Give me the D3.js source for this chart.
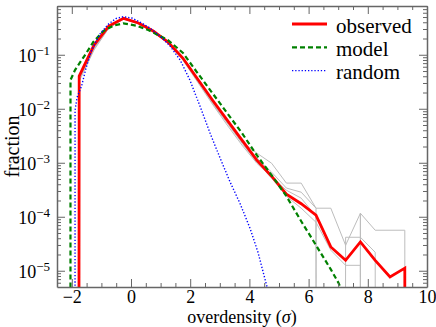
<!DOCTYPE html>
<html><head><meta charset="utf-8">
<script src="https://cdn.jsdelivr.net/npm/d3@7"></script>
<style>
body{margin:0;background:#fff}
svg{display:block}
text{font-family:"Liberation Serif","DejaVu Serif","Times New Roman",serif;fill:#000}
</style>
</head><body>
<svg id="chart" width="436" height="327"></svg>
<script>
// ---- data ----
const binCenters = [-2.25,-1.75,-1.25,-0.75,-0.25,0.25,0.75,1.25,1.75,2.25,2.75,3.25,3.75,4.25,4.75,5.25,5.75,6.25,6.75,7.25,7.75,8.25,8.75,9.25,9.75];
const observed = [0,0.0403,0.151,0.340,0.473,0.387,0.275,0.172,0.0869,0.0355,0.0145,0.00616,0.00262,0.00112,0.000564,0.000262,0.000174,0.000107,0.0000276,0.0000156,0.0000342,0.0000156,0.0000077,0.0000112,0];
const gray1 = [0,0.0355,0.133,0.326,0.469,0.387,0.275,0.172,0.0832,0.0340,0.0133,0.00566,0.00241,0.00151,0.00098,0.00042,0.00042,0.000144,0.000144,0.0000297,0.000116,0.0000563,0.0000563,0.0000563,0];
const gray2 = [0,0.034,0.1276,0.3127,0.459,0.387,0.264,0.165,0.0798,0.0312,0.0122,0.00498,0.00212,0.00098,0.00054,0.00031,0.000221,0.000102,0,0.0000417,0.0000417,0.000022,0,0,0];
const gray3 = [0,0.0326,0.1223,0.3127,0.459,0.371,0.264,0.165,0.0832,0.0326,0.0127,0.00542,0.00231,0.00103,0.00052,0.00024,0.000144,0.000079,0.000024,0.0000126,0.0000126,0,0,0,0];
const gray4 = [0,0.037,0.139,0.326,0.469,0.387,0.275,0.172,0.0869,0.034,0.01386,0.0059,0.00251,0.00122,0.00067,0.00034,0.000285,0.000144,0,0,0.000116,0,0,0,0];
const modelX = [-2.10,-2.044,-1.892,-1.554,-1.274,-0.936,-0.598,-0.260,0.193,0.584,0.912,1.250,1.757,2.250,2.750,3.250,3.750,4.250,4.750,5.250,5.750,6.250,6.750,7.000,7.230];
const modelY = [0,0.0340,0.0521,0.0988,0.172,0.275,0.345,0.382,0.345,0.287,0.232,0.187,0.108,0.0458,0.0195,0.00831,0.00354,0.00138,0.000589,0.000240,0.0000826,0.0000297,0.0000106,0.0000061,0.0000032];
const randomX = [-1.95,-1.89,-1.82,-1.67,-1.52,-1.33,-1.05,-0.78,-0.51,-0.26,0.03,0.30,0.64,0.98,1.32,1.66,1.99,2.33,2.67,3.01,3.35,3.68,4.02,4.29,4.58,4.70];
const randomY = [0,0.0094,0.0164,0.0263,0.0567,0.122,0.242,0.363,0.469,0.507,0.479,0.404,0.313,0.222,0.145,0.080,0.034,0.0112,0.00354,0.00122,0.000437,0.000178,0.0000613,0.000022,0.0000054,0.0000031];
const xTicks = [-2,0,2,4,6,8,10];
const xMinorTicks = [-2.5,-1.5,-1,-0.5,0.5,1,1.5,2.5,3,3.5,4.5,5,5.5,6.5,7,7.5,8.5,9,9.5];
const yTickExps = [-5,-4,-3,-2,-1];
const legendLabels = ["observed","model","random"];
const xLabel = "overdensity (";
const yLabel = "fraction";

// ---- layout ----
const FONT = '"Liberation Serif","DejaVu Serif","Times New Roman",serif';
const L = 57, R = 427, T = 6, B = 287;
const svg = d3.select("#chart");
const x = d3.scaleLinear().domain([-2.5, 10]).range([L, R]);
const y = d3.scaleLog().domain([5e-6, 0.8]).range([B, T]);
const yv = v => y(Math.max(v, 1e-300));

const yMajor = yTickExps.map(e => Math.pow(10, e));
const yMinor = [];
for (let e = -6; e <= -1; e++) for (let m = 2; m <= 9; m++) {
  const v = m * Math.pow(10, e);
  if (v >= 5e-6 && v <= 0.8) yMinor.push(v);
}

svg.append("defs").append("clipPath").attr("id","clip")
  .append("rect").attr("x",L).attr("y",T).attr("width",R-L).attr("height",B-T);

const line = d3.line().x(d => x(d[0])).y(d => yv(d[1]));
const plot = svg.append("g").attr("clip-path","url(#clip)");

[gray1, gray2, gray3, gray4].forEach(g => {
  plot.append("path").attr("d", line(binCenters.map((c,i)=>[c,g[i]])))
    .attr("fill","none").attr("stroke","#bdbdbd").attr("stroke-width",1);
});
plot.append("path").attr("d", line(binCenters.map((c,i)=>[c,observed[i]])))
  .attr("fill","none").attr("stroke","#ff0000").attr("stroke-width",2.8).attr("stroke-linejoin","miter");
plot.append("path").attr("d", line(modelX.map((c,i)=>[c,modelY[i]])))
  .attr("fill","none").attr("stroke","#008000").attr("stroke-width",2.2).attr("stroke-dasharray","5,3");
plot.append("path").attr("d", line(randomX.map((c,i)=>[c,randomY[i]])))
  .attr("fill","none").attr("stroke","#0000ff").attr("stroke-width",1.4).attr("stroke-dasharray","1.3,1.9");

// ---- axes ----
const axCol = "#666";
const axes = svg.append("g").attr("class","axes");
function fmtX(d){ return d < 0 ? "\u2212" + (-d) : String(d); }

const gxb = axes.append("g").attr("transform",`translate(0,${B})`)
  .call(d3.axisBottom(x).tickValues(xTicks).tickSizeInner(-8).tickSizeOuter(0).tickPadding(3).tickFormat(fmtX));
gxb.selectAll("text").attr("font-size",18).attr("font-family",FONT);
axes.append("g").attr("transform",`translate(0,${B})`)
  .call(d3.axisBottom(x).tickValues(xMinorTicks).tickSizeInner(-4).tickSizeOuter(0).tickFormat(""))
  .call(g=>g.select(".domain").remove());
axes.append("g").attr("transform",`translate(0,${T})`)
  .call(d3.axisTop(x).tickValues(xTicks).tickSizeInner(-8).tickSizeOuter(0).tickFormat(""));
axes.append("g").attr("transform",`translate(0,${T})`)
  .call(d3.axisTop(x).tickValues(xMinorTicks).tickSizeInner(-4).tickSizeOuter(0).tickFormat(""))
  .call(g=>g.select(".domain").remove());

const gyl = axes.append("g").attr("transform",`translate(${L},0)`)
  .call(d3.axisLeft(y).tickValues(yMajor).tickSizeInner(-8).tickSizeOuter(0).tickPadding(7).tickFormat(""));
axes.append("g").attr("transform",`translate(${L},0)`)
  .call(d3.axisLeft(y).tickValues(yMinor).tickSizeInner(-4).tickSizeOuter(0).tickFormat(""))
  .call(g=>g.select(".domain").remove());
axes.append("g").attr("transform",`translate(${R},0)`)
  .call(d3.axisRight(y).tickValues(yMajor).tickSizeInner(-8).tickSizeOuter(0).tickFormat(""));
axes.append("g").attr("transform",`translate(${R},0)`)
  .call(d3.axisRight(y).tickValues(yMinor).tickSizeInner(-4).tickSizeOuter(0).tickFormat(""))
  .call(g=>g.select(".domain").remove());

// y tick labels 10^e
gyl.selectAll(".tick").each(function(d){
  const e = Math.round(Math.log10(d));
  const t = d3.select(this).select("text");
  t.text(null).attr("dy",null).attr("x",-7).attr("y",6.5).attr("text-anchor","end")
    .attr("font-size",18).attr("font-family",FONT);
  t.append("tspan").text("10");
  t.append("tspan").attr("font-size",13).attr("dy",-7).text("\u2212" + (-e));
});

axes.selectAll("g").attr("font-family",FONT);
axes.selectAll("path,line").attr("stroke",axCol);
axes.selectAll(".domain").attr("stroke-width",1.5);
axes.selectAll(".tick line").attr("stroke-width",1);

// labels
const xl = svg.append("text").attr("x",(L+R)/2).attr("y",323).attr("text-anchor","middle").attr("font-size",18).attr("font-family",FONT);
xl.append("tspan").text(xLabel);
xl.append("tspan").attr("font-style","italic").text("\u03c3");
xl.append("tspan").text(")");
svg.append("text").attr("transform",`translate(19,${(T+B)/2}) rotate(-90)`).attr("font-family",FONT)
  .attr("text-anchor","middle").attr("font-size",20).text(yLabel);

// legend
const legColors = ["#ff0000","#008000","#0000ff"];
const legDash = [null,"5,3","1.3,1.9"];
const legW = [2.8,2.2,1.4];
const leg = svg.append("g").attr("font-family",FONT);
legendLabels.forEach((lab,i)=>{
  const ly = 24 + i*23.3;
  leg.append("line").attr("x1",292).attr("x2",327).attr("y1",ly).attr("y2",ly)
    .attr("stroke",legColors[i]).attr("stroke-width",legW[i]).attr("stroke-dasharray",legDash[i]);
  leg.append("text").attr("x",336).attr("y",ly+8.8).attr("font-size",21).text(lab);
});
</script>
</body></html>
